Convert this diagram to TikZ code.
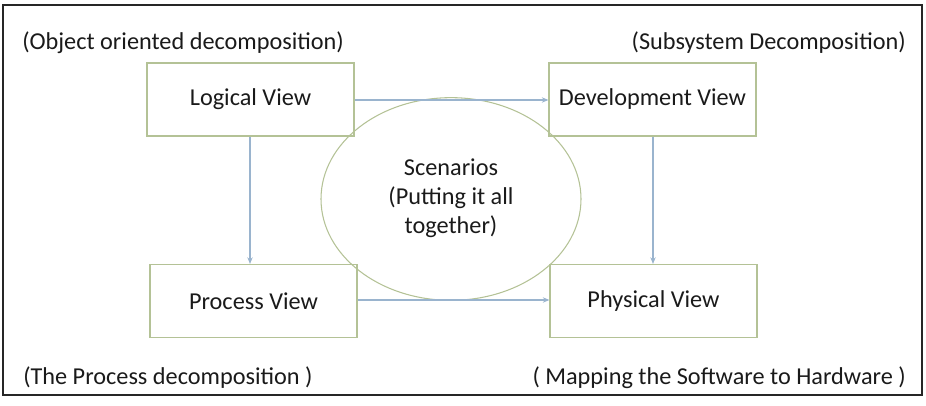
\documentclass[tikz,border=0pt]{standalone}
\usepackage{fontspec}
\setmainfont{Carlito}
\usetikzlibrary{arrows.meta,shapes.geometric}
\definecolor{boxc}{HTML}{B4C296}
\definecolor{arrc}{HTML}{9AB4CE}
\definecolor{txt}{HTML}{1A1A1A}
\tikzset{
  viewbox/.style={draw=boxc, line width=0.8pt, minimum width=155.25pt, minimum height=54.75pt, inner sep=0pt, font=\fontsize{18.2}{21.75}\selectfont, text=txt},
  conn/.style={draw=arrc, line width=0.8pt, -{Stealth[length=5pt,width=4pt]}},
  lbl/.style={font=\fontsize{18.2}{21.75}\selectfont, text=txt, inner sep=0pt}
}
\begin{document}
\begin{tikzpicture}[x=0.75pt,y=-0.75pt]
\useasboundingbox (0,0) rectangle (926,406);
\draw[line width=1.8pt, draw=black!85] (3,5) rectangle (922,395);
\node[viewbox] (logical) at (250.5,99.5) {Logical View};
\node[viewbox] (devel) at (652.5,99.5) {Development View};
\node[viewbox] (process) at (253.5,301) {Process View};
\node[viewbox] (physical) at (653.5,301) {Physical View};
\node[ellipse, draw=boxc, line width=0.8pt, minimum width=195pt, minimum height=152pt, inner sep=0pt] (scen) at (451,199) {};
\node[lbl, align=center] (scentext) at (451,198) {Scenarios\\(Putting it all\\together)};
\draw[conn] (logical.east |- 0,100) -- (devel.west |- 0,100);
\draw[conn] (process.east |- 0,300) -- (physical.west |- 0,300);
\draw[conn] (logical.south -| 250,0) -- (process.north -| 250,0);
\draw[conn] (devel.south -| 653,0) -- (physical.north -| 653,0);
\node[lbl, anchor=west] (l1) at (22,43) {(Object oriented decomposition)};
\node[lbl, anchor=east] (l2) at (906,43) {(Subsystem Decomposition)};
\node[lbl, anchor=west] (l3) at (23,378) {(The Process decomposition )};
\node[lbl, anchor=east] (l4) at (906,378) {( Mapping the Software to Hardware )};
\end{tikzpicture}
\end{document}
